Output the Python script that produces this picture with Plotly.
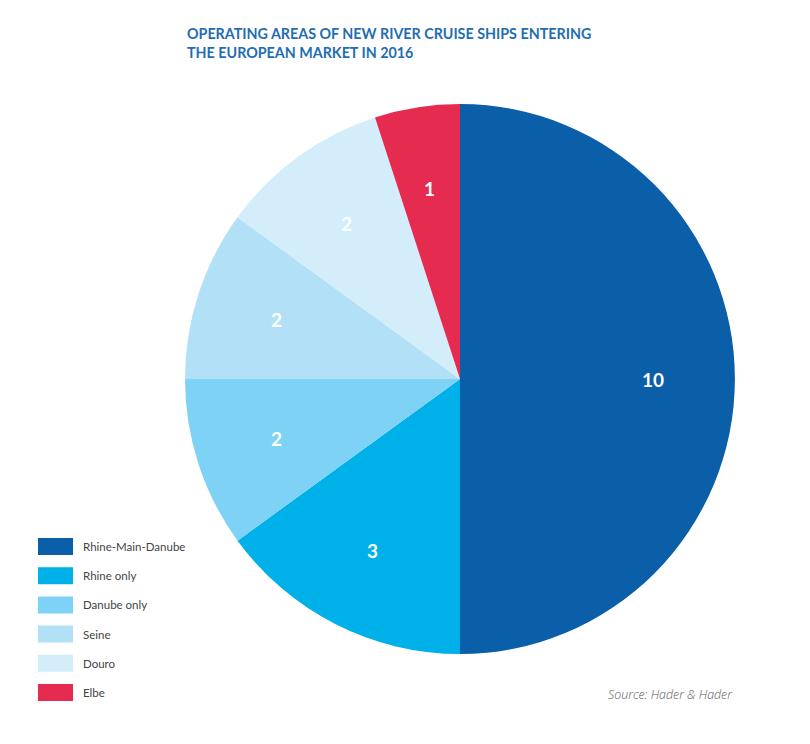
import math
import plotly.graph_objects as go

labels = ["Rhine-Main-Danube", "Rhine only", "Danube only", "Seine", "Douro", "Elbe"]
values = [10, 3, 2, 2, 2, 1]
colors = ["#0b5ea8", "#00b1e9", "#7dd2f5", "#b2e1f7", "#d3eefa", "#e52b4f"]

# page body has an 8px margin, so the figure is drawn 8px smaller and offset
OFF = 8
W, H = 810 - OFF, 744 - OFF


def px(x):
    return (x - OFF) / W


def py(y):
    return 1 - (y - OFF) / H


CX, CY, R = 460, 379, 275

fig = go.Figure()
fig.add_trace(go.Pie(
    labels=labels, values=values, sort=False, direction="clockwise", rotation=0,
    marker=dict(colors=colors, line=dict(width=0)),
    textinfo="none",
    domain=dict(x=[px(CX - R), px(CX + R)], y=[py(CY + R), py(CY - R)]),
    showlegend=False, hoverinfo="label+value",
))

shapes = []
annotations = []

# value labels at 70% radius on each slice's mid-angle
total = sum(values)
cum = 0
for v in values:
    mid = (cum + v / 2) / total * 2 * math.pi
    cum += v
    x = CX + 0.70 * R * math.sin(mid)
    y = CY - 0.70 * R * math.cos(mid)
    annotations.append(dict(text=str(v), xref="paper", yref="paper", x=px(x), y=py(y),
                            xanchor="center", yanchor="middle", showarrow=False,
                            font=dict(family="Lato", size=19, color="white", weight="bold")))

top = 538
step = 29.2
for i, (lab, col) in enumerate(zip(labels, colors)):
    y0 = top + i * step
    shapes.append(dict(type="rect", xref="paper", yref="paper",
                       x0=px(38), x1=px(73), y0=py(y0 + 17), y1=py(y0),
                       fillcolor=col, line=dict(width=0)))
    annotations.append(dict(text=lab, xref="paper", yref="paper", x=px(81), y=py(y0 + 8.5),
                            xanchor="left", yanchor="middle", showarrow=False,
                            font=dict(family="Lato", size=11.5, color="#444444")))

annotations.append(dict(text="OPERATING AREAS OF NEW RIVER CRUISE SHIPS ENTERING<br>THE EUROPEAN MARKET IN 2016",
                        xref="paper", yref="paper", x=px(185), y=py(23), xanchor="left", yanchor="top",
                        align="left", showarrow=False,
                        font=dict(family="Lato", size=14.3, color="#1f6db2", weight="bold")))
annotations.append(dict(text="<i>Source: Hader & Hader</i>", xref="paper", yref="paper",
                        x=px(735), y=py(694), xanchor="right", yanchor="middle", showarrow=False,
                        font=dict(family="Open Sans", size=12.4, color="#5a5a5a", weight=300)))

fig.update_layout(width=W, height=H, margin=dict(l=0, r=0, t=0, b=0),
                  paper_bgcolor="white", plot_bgcolor="white",
                  shapes=shapes, annotations=annotations)
fig.write_html("out.html")
